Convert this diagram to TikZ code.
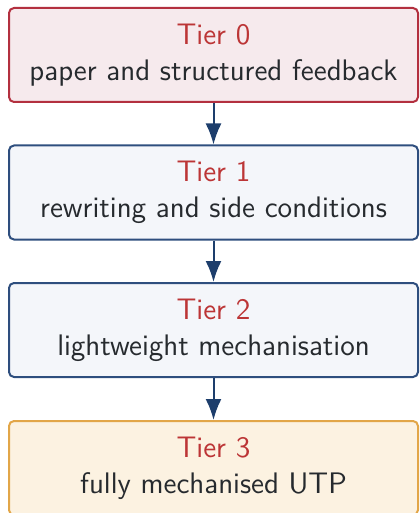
\documentclass[tikz,border=0pt]{standalone}
\usetikzlibrary{arrows.meta}
\definecolor{redline}{HTML}{B3303F}
\definecolor{redfill}{HTML}{F6EAED}
\definecolor{blueline}{HTML}{2E4E7E}
\definecolor{bluefill}{HTML}{F4F6FA}
\definecolor{orangeline}{HTML}{E2A648}
\definecolor{orangefill}{HTML}{FCF2E1}
\definecolor{tiertext}{HTML}{BC3536}
\definecolor{bodytext}{HTML}{262A2E}
\definecolor{arrowcol}{HTML}{1D3E6C}
\tikzset{
  tierbox/.style={draw, line width=1pt, rounded corners=2.5pt, minimum width=204.5pt, minimum height=47pt, inner sep=0pt, align=center, font=\sffamily\fontsize{14.85}{18}\selectfont, text=bodytext},
  tier0/.style={tierbox, draw=redline, fill=redfill},
  tier1/.style={tierbox, draw=blueline, fill=bluefill},
  tier3/.style={tierbox, draw=orangeline, fill=orangefill},
  flow/.style={draw=arrowcol, line width=1pt, -{Latex[length=10.5pt,width=8pt]}}
}
\begin{document}
\begin{tikzpicture}[x=0.5pt,y=-0.5pt]
\useasboundingbox (0,0) rectangle (419,513);
\node[tier0] (t0) at (213.5,55) {\textcolor{tiertext}{Tier 0}\\paper and structured feedback};
\node[tier1] (t1) at (213.5,192.5) {\textcolor{tiertext}{Tier 1}\\rewriting and side conditions};
\node[tier1] (t2) at (213.5,330) {\textcolor{tiertext}{Tier 2}\\lightweight mechanisation};
\node[tier3] (t3) at (213.5,468) {\textcolor{tiertext}{Tier 3}\\fully mechanised UTP};
\draw[flow] (t0) -- (t1);
\draw[flow] (t1) -- (t2);
\draw[flow] (t2) -- (t3);
\end{tikzpicture}
\end{document}
